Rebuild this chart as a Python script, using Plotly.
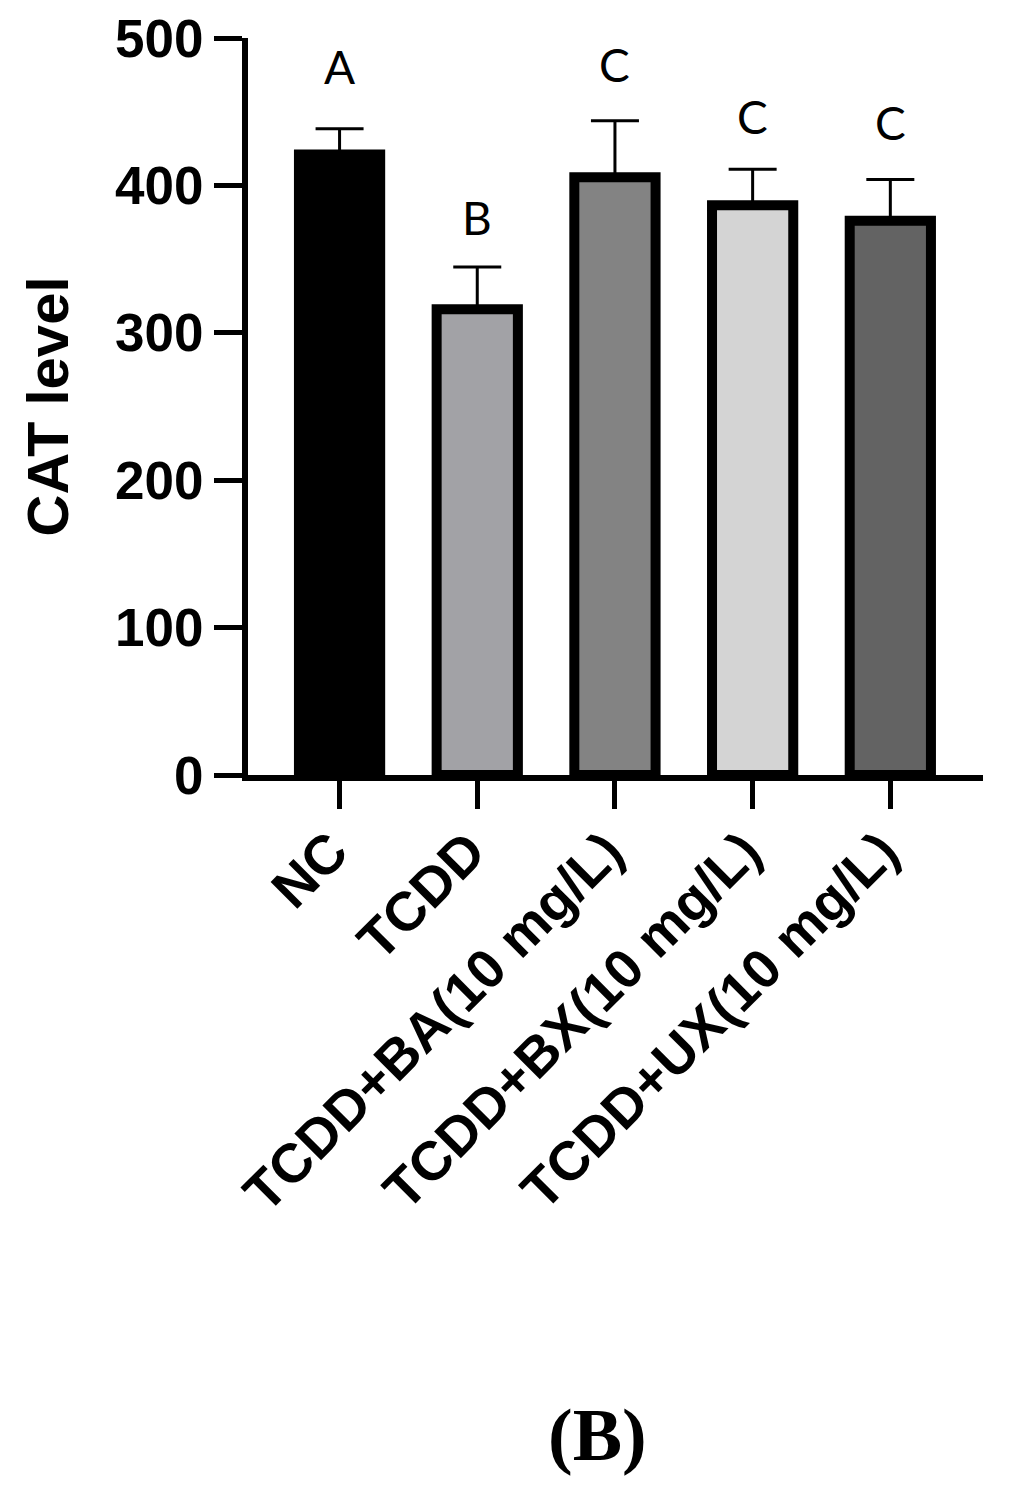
import plotly.graph_objects as go

# ---- data ----
categories = ["NC", "TCDD", "TCDD+BA(10 mg/L)", "TCDD+BX(10 mg/L)", "TCDD+UX(10 mg/L)"]
means = [421, 316, 405.5, 386.5, 376]
errors = [17.5, 28.6, 38.4, 24.5, 28]
fill_colors = ["#000000", "#a2a2a6", "#838383", "#d4d4d4", "#636363"]
letters = ["A", "B", "C", "C", "C"]
letter_y = [481, 378, 482, 447, 443]
y_ticks = [0, 100, 200, 300, 400, 500]

x_pos = list(range(len(categories)))

fig = go.Figure()
fig.add_trace(go.Bar(
    x=x_pos,
    y=means,
    width=0.59,
    marker=dict(color=fill_colors, line=dict(color="black", width=10)),
    error_y=dict(type="data", array=errors, arrayminus=[0] * len(means),
                 symmetric=False, color="black", thickness=3, width=24),
    showlegend=False,
))

for xi, lab, ly in zip(x_pos, letters, letter_y):
    fig.add_annotation(x=xi, y=ly, text=lab, showarrow=False,
                       xanchor="center", yanchor="middle",
                       font=dict(family="Lato", size=46, color="black"))

fig.add_annotation(x=0.475, y=-0.895, xref="paper", yref="paper", text="(B)",
                   showarrow=False, xanchor="center", yanchor="middle",
                   font=dict(family="Liberation Serif", size=74, color="black", weight="bold"))

axis_font = dict(family="Liberation Sans", size=53, color="black", weight="bold")
xtick_font = dict(family="Liberation Sans", size=55, color="black", weight="bold")

fig.update_layout(
    width=1015, height=1503,
    margin=dict(l=240, r=40, t=30, b=736, autoexpand=False),
    paper_bgcolor="white", plot_bgcolor="white",
    xaxis=dict(
        range=[-0.665, 4.673], automargin=False,
        tickvals=x_pos, ticktext=categories, tickangle=-45,
        showline=True, linewidth=6, linecolor="black",
        ticks="outside", ticklen=28, tickwidth=5, tickcolor="black",
        tickfont=xtick_font, showgrid=False, zeroline=False,
        ticklabelstandoff=-12, ticklabelshift=-8,
    ),
    yaxis=dict(
        range=[0, 500], tickvals=y_ticks, automargin=False,
        showline=True, linewidth=6, linecolor="black",
        ticks="outside", ticklen=28, tickwidth=5, tickcolor="black",
        tickfont=axis_font, showgrid=False, zeroline=False,
        title=dict(text="CAT level", font=dict(family="Liberation Sans", size=58, color="black", weight="bold"), standoff=30),
    ),
)

fig.write_html("out.html")
